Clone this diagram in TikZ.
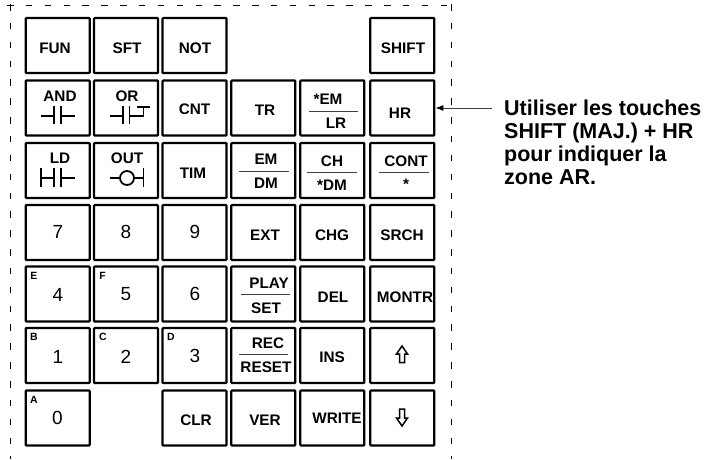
\documentclass[tikz,border=0pt]{standalone}
\usepackage{fontspec}
\setmainfont{Liberation Sans}
\usetikzlibrary{arrows.meta}
\tikzset{
  x=1pt,y=-1pt,
  keybox/.style={draw=black,line width=2.2pt,rounded corners=0.8pt,minimum width=64pt,minimum height=55pt,inner sep=0pt},
  lab/.style={inner sep=0pt,font=\bfseries\fontsize{15.3}{16}\selectfont},
  digit/.style={inner sep=0pt,font=\fontsize{19}{20}\selectfont},
  hex/.style={inner sep=0pt,font=\bfseries\fontsize{10.5}{11}\selectfont},
  sym/.style={line width=1.8pt},
  rule/.style={line width=0.9pt,draw=black!75},
  frame/.style={line width=1pt,dash pattern=on 6.5pt off 12.35pt},
  note/.style={inner sep=0pt,anchor=north west,align=left,font=\bfseries\fontsize{21.5}{23}\selectfont}
}
\newcommand{\keyat}[3]{\node[keybox] (#1) at (#2,#3) {};}
\begin{document}
\begin{tikzpicture}
\useasboundingbox (0,0) rectangle (706,459);
\draw[frame] (10.3,4) -- (10.3,459);
\draw[frame] (451.7,4) -- (451.7,459);
\draw[frame] (7,5.5) -- (453,5.5);
% row 1
\keyat{kfun}{57.7}{45.5}\keyat{ksft}{126}{45.5}\keyat{knot}{194.5}{45.5}\keyat{kshift}{402.3}{45.5}
% row 2
\keyat{kand}{57.7}{108}\keyat{kor}{126}{108}\keyat{kcnt}{194.5}{108}\keyat{ktr}{263.3}{108}\keyat{klr}{332.3}{108}\keyat{khr}{402.3}{108}
% row 3
\keyat{kld}{57.7}{170.5}\keyat{kout}{126}{170.5}\keyat{ktim}{194.5}{170.5}\keyat{kem}{263.3}{170.5}\keyat{kch}{332.3}{170.5}\keyat{kcont}{402.3}{170.5}
% row 4
\keyat{kseven}{57.7}{232.5}\keyat{keight}{126}{232.5}\keyat{knine}{194.5}{232.5}\keyat{kext}{263.3}{232.5}\keyat{kchg}{332.3}{232.5}\keyat{ksrch}{402.3}{232.5}
% row 5
\keyat{kfour}{57.7}{294}\keyat{kfive}{126}{294}\keyat{ksix}{194.5}{294}\keyat{kplay}{263.3}{294}\keyat{kdel}{332.3}{294}\keyat{kmontr}{402.3}{294}
% row 6
\keyat{kone}{57.7}{355.5}\keyat{ktwo}{126}{355.5}\keyat{kthree}{194.5}{355.5}\keyat{krec}{263.3}{355.5}\keyat{kins}{332.3}{355.5}\keyat{kup}{402.3}{355.5}
% row 7
\keyat{kzero}{57.7}{418}\keyat{kclr}{194.5}{418}\keyat{kver}{263.3}{418}\keyat{kwrite}{332.3}{418}\keyat{kdown}{402.3}{418}
% plain labels
\node[lab] (tfun) at (55,48) {FUN};
\node[lab] (tsft) at (127,48) {SFT};
\node[lab] (tnot) at (195,48) {NOT};
\node[lab] (tshift) at (403,48) {SHIFT};
\node[lab] (tand) at (60,96) {AND};
\node[lab] (tor) at (127,96) {OR};
\node[lab] (tcnt) at (194.5,109) {CNT};
\node[lab] (ttr) at (265,110) {TR};
\node[lab] (thr) at (400,113) {HR};
\node[lab] (tld) at (60,158) {LD};
\node[lab] (tout) at (127,158) {OUT};
\node[lab] (ttim) at (193,173) {TIM};
\node[lab] (text) at (265,235) {EXT};
\node[lab] (tchg) at (332,235) {CHG};
\node[lab] (tsrch) at (402,235) {SRCH};
\node[lab] (tdel) at (333,297) {DEL};
\node[lab] (tmontr) at (405,297) {MONTR};
\node[lab] (tins) at (332,357) {INS};
\node[lab] (tclr) at (196,420) {CLR};
\node[lab] (tver) at (265,420) {VER};
\node[lab] (twrite) at (337,418) {WRITE};
% split labels
\node[lab] (tsem) at (328,99) {*EM};
\node[lab] (tlr) at (336,123) {LR};
\draw[rule] (309,111) -- (358,111);
\node[lab] (tem) at (266,159) {EM};
\node[lab] (tdm) at (266,183) {DM};
\draw[rule] (239,171) -- (289,171);
\node[lab] (tch) at (332,161) {CH};
\node[lab] (tsdm) at (332,185) {*DM};
\draw[rule] (307,172) -- (357,172);
\node[lab] (tcont) at (406,161) {CONT};
\node[lab] (tstar) at (406,184) {*};
\draw[rule] (379,172) -- (429,172);
\node[lab] (tplay) at (269,283) {PLAY};
\node[lab] (tset) at (266,308) {SET};
\draw[rule,line width=1.3pt] (241,294.5) -- (290,294.5);
\node[lab] (trec) at (268,343) {REC};
\node[lab] (treset) at (266,367) {RESET};
\draw[rule] (239,354.5) -- (288,354.5);
% digits
\node[digit] (d7) at (58,232) {7};
\node[digit] (d8) at (126,232) {8};
\node[digit] (d9) at (195,232) {9};
\node[digit] (d4) at (58,295) {4};
\node[digit] (d5) at (126,294) {5};
\node[digit] (d6) at (195,294) {6};
\node[digit] (d1) at (58,357) {1};
\node[digit] (d2) at (126,357) {2};
\node[digit] (d3) at (195,356) {3};
\node[digit] (d0) at (57.5,418) {0};
% corner letters
\node[hex] (he) at (34,276) {E};
\node[hex] (hf) at (102.5,276) {F};
\node[hex] (hb) at (34,337) {B};
\node[hex] (hc) at (103,337) {C};
\node[hex] (hd) at (171,337) {D};
\node[hex] (ha) at (34,400) {A};
% contact symbols
\draw[sym] (41,115.7) -- (54,115.7) (54,106) -- (54,124) (61,106) -- (61,124) (61,115.7) -- (75,115.7);
\draw[sym] (110,116) -- (123,116) (123,106) -- (123,124) (129.5,106) -- (129.5,124) (129.5,116) -- (143.5,116) -- (143.5,107) (137,107) -- (150,107);
\draw[sym] (41,168) -- (41,187) (41,178) -- (54,178) (54,168) -- (54,187) (61,168) -- (61,187) (61,178) -- (75,178);
\draw[sym] (110,178) -- (120,178) (134,178) -- (143.5,178) (143.5,168) -- (143.5,187);
\draw[sym] (127,178) circle (7);
% arrows on keys
\draw[line width=1.5pt,line join=miter] (402,346) -- (396.5,354) -- (399.5,354) -- (399.5,362.5) -- (404.5,362.5) -- (404.5,354) -- (407.5,354) -- cycle;
\draw[line width=1.5pt,line join=miter] (402,426) -- (396.5,418) -- (399.5,418) -- (399.5,409) -- (404.5,409) -- (404.5,418) -- (407.5,418) -- cycle;
% note
\node[note] (notetext) at (504,99.5) {Utiliser les touches\\SHIFT (MAJ.) + HR\\pour indiquer la\\zone AR.};
\coordinate (notestart) at (492,108);
\draw[line width=0.9pt,draw=black!75,-{Latex[length=8pt,width=6pt,black]}] (notestart) -- (khr.east);
\end{tikzpicture}
\end{document}
